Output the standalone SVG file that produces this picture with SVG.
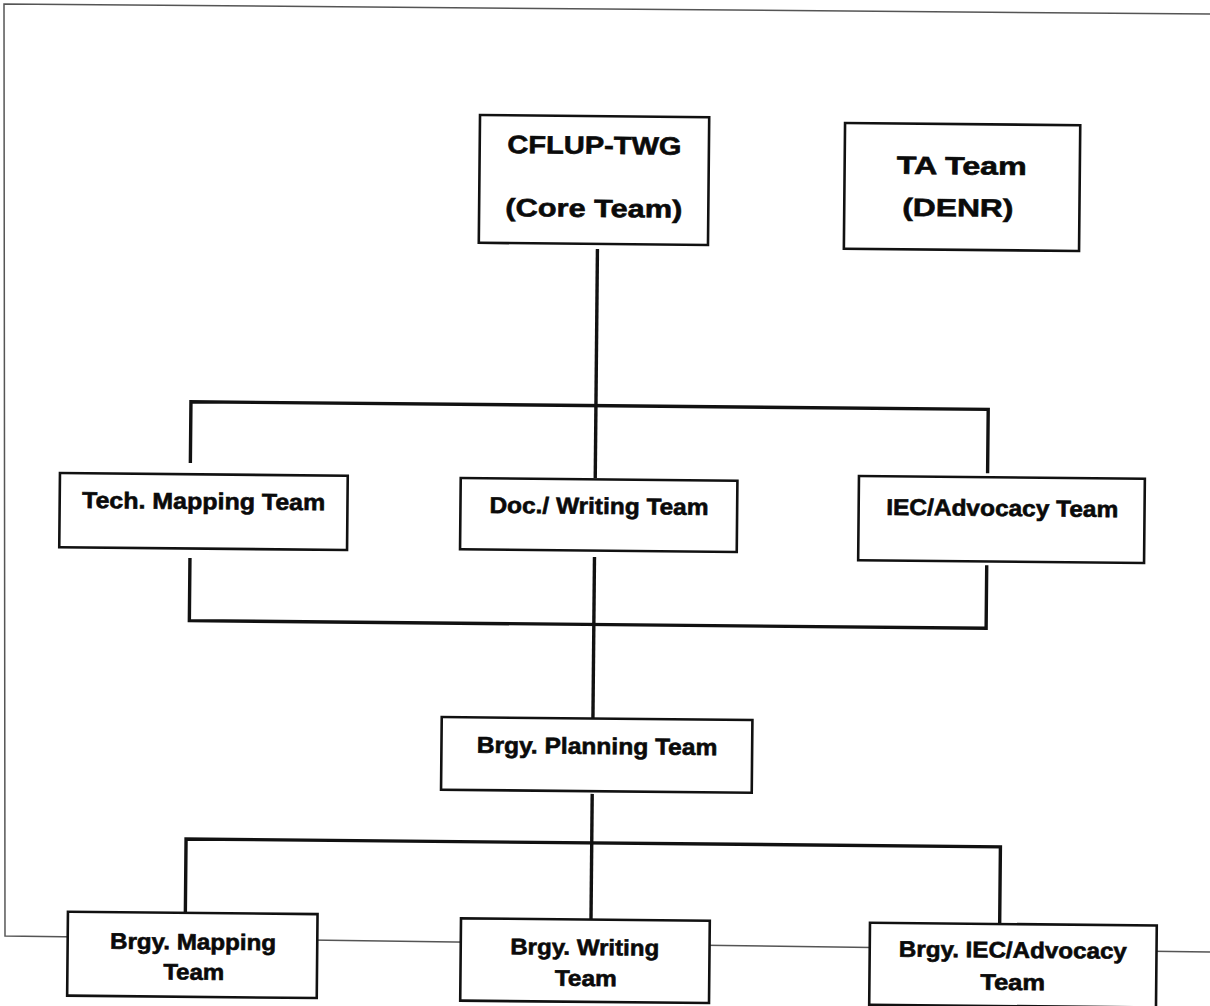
<svg xmlns="http://www.w3.org/2000/svg" width="1210" height="1006" viewBox="0 0 1210 1006">
<style>
.box{fill:#fff;stroke:#111;stroke-width:2.6}
.t{font-family:"Liberation Sans",Arial,sans-serif;font-weight:bold;fill:#0a0a0a;stroke:#0a0a0a;stroke-width:0.6;text-anchor:middle}
.big{font-size:25px}
.mid{font-size:23px}
.sm{font-size:22.5px}
.con{fill:none;stroke:#111;stroke-width:3.4;stroke-linejoin:miter;stroke-linecap:butt}
.page{fill:none;stroke:#555;stroke-width:1.5}
</style>
<rect x="0" y="0" width="1210" height="1006" fill="#fff"/>
<polyline class="page" points="1210,14 4,4 5,936 1210,952"/>
<g transform="rotate(0.55 605 503)">
<g id="connectors">
<path class="con" d="M595,249 V478"/>
<path class="con" d="M595,557 V718"/>
<path class="con" d="M595,794 V920"/>
<path class="con" d="M190,467 V405.7 H987.3 V469.5"/>
<path class="con" d="M190.5,562 V624.6 H987.3 V561.5"/>
<path class="con" d="M189.3,916 V843 H1003.7 V920"/>
</g>
<g id="cflup-twg">
<rect class="box" x="476.3" y="116.2" width="229.2" height="127.8"/>
<text class="t big" x="591" y="154" textLength="174" lengthAdjust="spacingAndGlyphs">CFLUP-TWG</text>
<text class="t big" x="591" y="217" textLength="177" lengthAdjust="spacingAndGlyphs">(Core Team)</text>
</g>
<g id="ta-team">
<rect class="box" x="841.4" y="120.7" width="235.2" height="125.7"/>
<text class="t big" x="958.5" y="171" textLength="130" lengthAdjust="spacingAndGlyphs">TA Team</text>
<text class="t big" x="955" y="213" textLength="111" lengthAdjust="spacingAndGlyphs">(DENR)</text>
</g>
<g id="tech-mapping">
<rect class="box" x="59.7" y="478.2" width="287.8" height="74.3"/>
<text class="t mid" x="203.7" y="513" textLength="243" lengthAdjust="spacingAndGlyphs">Tech. Mapping Team</text>
</g>
<g id="doc-writing">
<rect class="box" x="460.5" y="479.4" width="276.7" height="71.3"/>
<text class="t mid" x="599" y="514" textLength="219" lengthAdjust="spacingAndGlyphs">Doc./ Writing Team</text>
</g>
<g id="iec-advocacy">
<rect class="box" x="858.7" y="473.6" width="285.9" height="84.2"/>
<text class="t mid" x="1002.3" y="512.2" textLength="232" lengthAdjust="spacingAndGlyphs">IEC/Advocacy Team</text>
</g>
<g id="brgy-planning">
<rect class="box" x="443.8" y="718.6" width="310.7" height="72.7"/>
<text class="t mid" x="599.4" y="754.1" textLength="240.6" lengthAdjust="spacingAndGlyphs">Brgy. Planning Team</text>
</g>
<g id="brgy-mapping">
<rect class="box" x="71.9" y="916.9" width="249.6" height="83.9"/>
<text class="t sm" x="197.3" y="953.5" textLength="166" lengthAdjust="spacingAndGlyphs">Brgy. Mapping</text>
<text class="t sm" x="198.3" y="983.7" textLength="61" lengthAdjust="spacingAndGlyphs">Team</text>
</g>
<g id="brgy-writing">
<rect class="box" x="465" y="919.7" width="248.8" height="82.3"/>
<text class="t sm" x="589" y="955.2" textLength="149" lengthAdjust="spacingAndGlyphs">Brgy. Writing</text>
<text class="t sm" x="590.4" y="986.2" textLength="62" lengthAdjust="spacingAndGlyphs">Team</text>
</g>
<g id="brgy-iec-advocacy">
<rect class="box" x="874" y="920.2" width="286.8" height="82"/>
<text class="t sm" x="1017.2" y="953.8" textLength="228" lengthAdjust="spacingAndGlyphs">Brgy. IEC/Advocacy</text>
<text class="t sm" x="1017.3" y="986.1" textLength="65" lengthAdjust="spacingAndGlyphs">Team</text>
</g>
</g>
</svg>
